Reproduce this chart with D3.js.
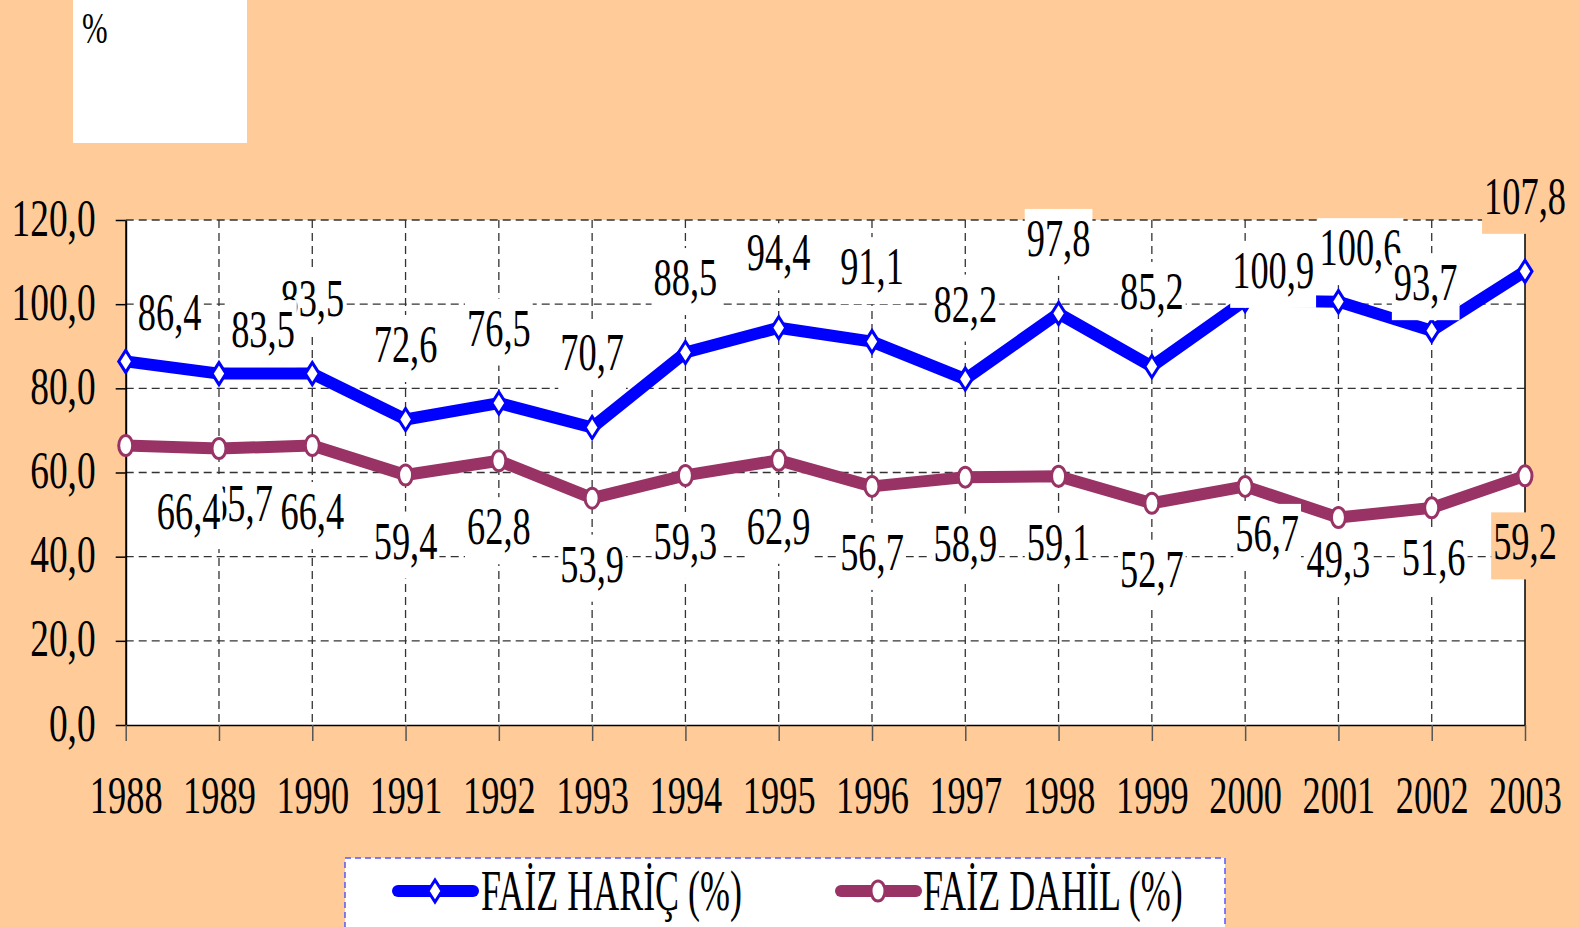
<html>
<script src="https://d3js.org/d3.v7.min.js"></script>
<meta charset="UTF-8">
<style>
    body { margin: 0; background: #FFCC99; overflow: hidden; }
    text { font-family: "Liberation Serif", "Times New Roman", serif; fill: #000; }
</style>
<body>
<svg width="1579" height="927" id="canvas"></svg>
</body>
<script>
    // data
    var years = [1988, 1989, 1990, 1991, 1992, 1993, 1994, 1995, 1996, 1997, 1998, 1999, 2000, 2001, 2002, 2003];
    var faizHaric = [86.4, 83.5, 83.5, 72.6, 76.5, 70.7, 88.5, 94.4, 91.1, 82.2, 97.8, 85.2, 100.9, 100.6, 93.7, 107.8];
    var faizDahil = [66.4, 65.7, 66.4, 59.4, 62.8, 53.9, 59.3, 62.9, 56.7, 58.9, 59.1, 52.7, 56.7, 49.3, 51.6, 59.2];
    var yTicks = [0, 20, 40, 60, 80, 100, 120];
    var seriesNames = ["FAİZ HARİÇ (%)", "FAİZ DAHİL (%)"];

    // label nudges (label placement as in the original, dx / dy)
    var haricNudge = [[44, 26], [44, 31], [0, 0], [0, 0], [0, 0], [0, 0], [0, 0], [0, 0], [0, 0], [0, 0], [0, 0], [0, 0], [28, 45], [22, 21], [-6, 27], [0, 0]];
    var dahilNudge = [[63, 0], [22, -11], [0, 0], [0, 0], [0, 0], [0, 0], [0, 0], [0, 0], [0, 0], [0, 0], [0, 0], [0, 0], [22, -19], [0, -24], [2, -16], [0, 0]];
    // which label is painted over which
    var haricOrder = [0, 2, 1, 3, 4, 5, 6, 7, 8, 9, 10, 11, 12, 13, 14, 15];
    var dahilOrder = [1, 0, 2, 3, 4, 5, 6, 7, 8, 9, 10, 11, 12, 13, 14, 15];

    var peach = "#FFCC99", blue = "#0000FF", plum = "#993366";
    var SX = 0.7, FS = 52;

    var svg = d3.select("#canvas");
    var plotL = 125.7, plotR = 1525, plotT = 220, plotB = 725;

    var x = d3.scalePoint().domain(years).range([plotL, plotR]).padding(0);
    var y = d3.scaleLinear().domain([0, 120]).range([plotB, plotT]);
    var fmt = function (d) { return d.toFixed(1).replace(".", ","); };

    // top-left white box with %
    svg.append("rect").attr("x", 73).attr("y", 0).attr("width", 174).attr("height", 143).attr("fill", "#fff");
    svg.append("text").attr("transform", "translate(82,43) scale(" + SX + ",1)")
        .style("font-size", "44px").text("%");

    // plot area
    svg.append("rect").attr("x", plotL).attr("y", plotT).attr("width", plotR - plotL).attr("height", plotB - plotT).attr("fill", "#fff");

    var grid = svg.append("g").attr("stroke", "#333").attr("stroke-width", 1.3).attr("stroke-dasharray", "8,5");
    grid.selectAll(".hg").data(yTicks.filter(function (d) { return d > 0; })).enter().append("line")
        .attr("x1", plotL).attr("x2", plotR)
        .attr("y1", function (d) { return y(d); }).attr("y2", function (d) { return y(d); });
    grid.selectAll(".vg").data(years.slice(1, -1)).enter().append("line")
        .attr("x1", function (d) { return x(d); }).attr("x2", function (d) { return x(d); })
        .attr("y1", plotT).attr("y2", plotB);

    // right border
    svg.append("line").attr("x1", plotR).attr("x2", plotR).attr("y1", plotT).attr("y2", plotB)
        .attr("stroke", "#000").attr("stroke-width", 1.5);

    // y axis
    var gy = svg.append("g").attr("transform", "translate(" + plotL + ",0)")
        .call(d3.axisLeft(y).tickValues(yTicks).tickFormat(fmt).tickSize(10).tickSizeOuter(0));
    gy.select(".domain").attr("stroke", "#000").attr("stroke-width", 2);
    gy.selectAll(".tick line").attr("stroke", "#000").attr("stroke-width", 1.5);
    gy.selectAll(".tick text")
        .attr("x", null).attr("dy", null)
        .attr("transform", "translate(-30,15) scale(0.72,1)")
        .style("font-size", FS + "px").attr("font-family", null).attr("fill", "#000");

    // x axis
    var gx = svg.append("g").attr("transform", "translate(0," + plotB + ")")
        .call(d3.axisBottom(x).tickSize(16).tickSizeOuter(0));
    gx.select(".domain").attr("stroke", "#000").attr("stroke-width", 1.5);
    gx.selectAll(".tick line").attr("stroke", "#555").attr("stroke-width", 1.5);
    gx.selectAll(".tick text")
        .attr("y", null).attr("dy", null)
        .attr("transform", "translate(0,88) scale(" + SX + ",1)")
        .style("font-size", FS + "px").attr("font-family", null).attr("fill", "#000");

    var series = [
        { name: seriesNames[0], values: faizHaric, color: blue, marker: "diamond", off: -75, nudge: haricNudge, order: haricOrder },
        { name: seriesNames[1], values: faizDahil, color: plum, marker: "circle", off: 66, nudge: dahilNudge, order: dahilOrder }
    ];

    var line = d3.line()
        .x(function (d, i) { return x(years[i]); })
        .y(function (d) { return y(d); });

    function drawMarker(g, kind, color) {
        if (kind === "diamond") {
            g.append("path").attr("d", "M0,-11L7,0L0,11L-7,0Z")
                .attr("fill", "#fff").attr("stroke", color).attr("stroke-width", 3);
        } else {
            g.append("ellipse").attr("rx", 7).attr("ry", 10)
                .attr("fill", "#fff").attr("stroke", color).attr("stroke-width", 3);
        }
    }

    series.forEach(function (s) {
        svg.append("path").datum(s.values)
            .attr("d", line)
            .attr("fill", "none").attr("stroke", s.color).attr("stroke-width", 12)
            .attr("stroke-linejoin", "round");
        s.values.forEach(function (v, i) {
            var m = svg.append("g").attr("transform", "translate(" + x(years[i]) + "," + y(v) + ")");
            drawMarker(m, s.marker, s.color);
        });
    });

    // data labels with boxes
    series.forEach(function (s) {
        s.order.forEach(function (i) {
            var v = s.values[i];
            var cx = x(years[i]) + s.nudge[i][0];
            var base = y(v) + s.off + s.nudge[i][1] + 17.5;
            var g = svg.append("g").attr("transform", "translate(" + cx + "," + base + ")");
            var box = g.append("rect");
            var t = g.append("text").attr("text-anchor", "middle")
                .attr("transform", "scale(" + SX + ",1)")
                .style("font-size", FS + "px").text(fmt(v));
            var w = t.node().getComputedTextLength() * SX;
            box.attr("x", -w / 2 - 2).attr("y", -47).attr("width", w + 4).attr("height", 67)
                .attr("fill", i === s.values.length - 1 ? peach : "#fff");
        });
    });

    // legend
    var lg = svg.append("g");
    lg.append("rect").attr("x", 345).attr("y", 858).attr("width", 880).attr("height", 100)
        .attr("fill", "#fff").attr("stroke", "#5555ff").attr("stroke-width", 1.5).attr("stroke-dasharray", "6,4");
    var legPos = [[398, 481], [841, 923]];
    series.forEach(function (s, k) {
        var lx = legPos[k][0], ly = 891;
        lg.append("line").attr("x1", lx).attr("x2", lx + 75).attr("y1", ly).attr("y2", ly)
            .attr("stroke", s.color).attr("stroke-width", 12).attr("stroke-linecap", "round");
        var m = lg.append("g").attr("transform", "translate(" + (lx + 37) + "," + ly + ")");
        drawMarker(m, s.marker, s.color);
        lg.append("text").attr("transform", "translate(" + legPos[k][1] + ",910) scale(0.62,1)")
            .style("font-size", "58px").text(s.name);
    });
</script>
</html>
